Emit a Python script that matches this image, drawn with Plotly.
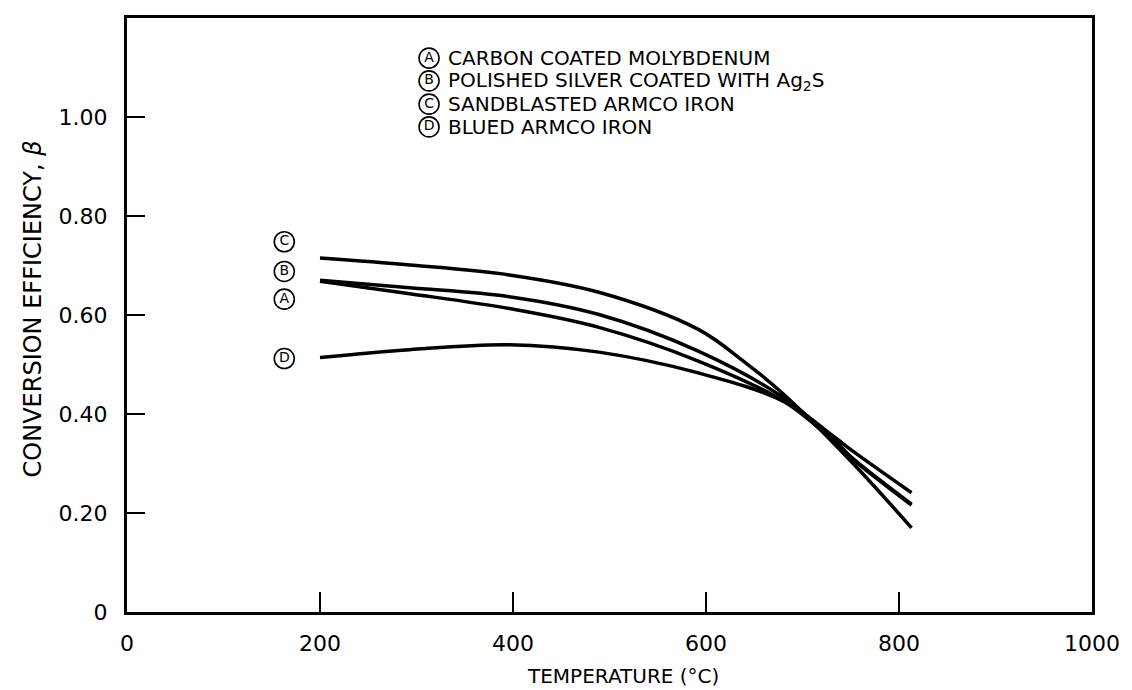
import plotly.graph_objects as go

# ---- data (temperature in °C, conversion efficiency beta) ----
temp_A = [200, 293, 396, 489, 592, 681, 734, 750, 813]
eff_A = [0.668, 0.643, 0.613, 0.575, 0.507, 0.425, 0.342, 0.312, 0.216]

temp_B = [200, 293, 396, 489, 592, 681, 734, 750, 813]
eff_B = [0.670, 0.655, 0.637, 0.601, 0.527, 0.432, 0.346, 0.314, 0.218]

temp_C = [200, 293, 396, 489, 592, 640, 681, 750, 813]
eff_C = [0.715, 0.701, 0.681, 0.646, 0.571, 0.505, 0.439, 0.305, 0.170]

temp_D = [200, 293, 396, 489, 592, 681, 734, 750, 813]
eff_D = [0.514, 0.530, 0.540, 0.525, 0.483, 0.425, 0.352, 0.328, 0.241]

# circled labels next to curve starts
curve_letters = ["C", "B", "A", "D"]
curve_label_x = [163, 163, 163, 163]
curve_label_y = [0.748, 0.688, 0.632, 0.512]

# key in upper part of chart
legend_letters = ["A", "B", "C", "D"]
legend_texts = [
    "CARBON COATED MOLYBDENUM",
    "POLISHED SILVER COATED WITH Ag<sub>2</sub>S",
    "SANDBLASTED ARMCO IRON",
    "BLUED ARMCO IRON",
]
legend_circle_x = [313, 313, 313, 313]
legend_text_x = 331
legend_y = [1.119, 1.073, 1.026, 0.980]

x_ticks = [0, 200, 400, 600, 800, 1000]
x_ticktext = ["0", "200", "400", "600", "800", "1000"]
y_ticks = [0, 0.2, 0.4, 0.6, 0.8, 1.0]
y_ticktext = ["0", "0.20", "0.40", "0.60", "0.80", "1.00"]

FONT = "DejaVu Sans"

fig = go.Figure()
for t, e in [(temp_A, eff_A), (temp_B, eff_B), (temp_C, eff_C), (temp_D, eff_D)]:
    fig.add_trace(go.Scatter(
        x=t, y=e, mode="lines",
        line=dict(color="black", width=3.5, shape="spline", smoothing=1.0),
        showlegend=False, hoverinfo="skip",
    ))

# circled letters (open circle markers with the letter centred inside)
for xs, ys, letters in [(curve_label_x, curve_label_y, curve_letters),
                        (legend_circle_x, legend_y, legend_letters)]:
    fig.add_trace(go.Scatter(
        x=xs, y=ys, mode="markers+text", text=letters,
        textposition="middle center",
        textfont=dict(family=FONT, size=14, color="black"),
        marker=dict(symbol="circle-open", size=20, color="black",
                    line=dict(width=1.6, color="black")),
        showlegend=False, hoverinfo="skip", cliponaxis=False,
    ))

for txt, yv in zip(legend_texts, legend_y):
    fig.add_annotation(x=legend_text_x, y=yv, xref="x", yref="y",
                       text=txt, xanchor="left", yanchor="middle",
                       showarrow=False, font=dict(family=FONT, size=20, color="black"))

fig.add_annotation(x=-0.097, y=0.51, xref="paper", yref="paper",
                   xanchor="center", yanchor="middle",
                   text="CONVERSION EFFICIENCY, <i>β</i>", textangle=-90,
                   showarrow=False, font=dict(family=FONT, size=24, color="black"))
fig.add_annotation(x=0.514, y=-0.108, xref="paper", yref="paper",
                   xanchor="center", yanchor="middle",
                   text="TEMPERATURE (°C)", showarrow=False,
                   font=dict(family=FONT, size=20, color="black"))

axis_common = dict(showgrid=False, zeroline=False, showline=True, mirror=True,
                   linecolor="black", linewidth=3, ticks="inside", tickcolor="black",
                   tickwidth=1.5, tickfont=dict(family=FONT, size=22, color="black"))

fig.update_xaxes(range=[0, 1000], tickvals=x_ticks, ticktext=x_ticktext,
                 ticklen=20, ticklabelstandoff=10, **axis_common)
fig.update_yaxes(range=[0, 1.2], tickvals=y_ticks, ticktext=y_ticktext,
                 ticklen=18, ticklabelstandoff=12, **axis_common)

fig.update_layout(width=1132, height=690, autosize=False,
                  margin=dict(l=127, r=37, t=18, b=78),
                  plot_bgcolor="white", paper_bgcolor="white")

fig.write_html("out.html")
